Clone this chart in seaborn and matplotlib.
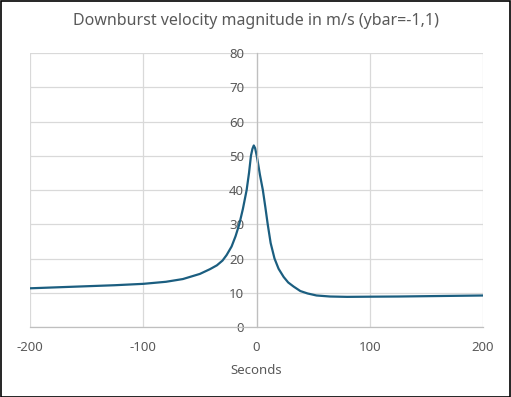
"""
Downburst velocity magnitude (ybar=-1,1) - Excel-style line chart redone with seaborn
"""

import pandas as pd
import matplotlib
matplotlib.use("Agg")
import matplotlib.pyplot as plt
import matplotlib.patches as mpatches
import seaborn as sns

# ---------------------------------------------------------------------------
# Data
# ---------------------------------------------------------------------------
seconds = [-200, -175, -150, -125, -100, -80, -65, -50, -41, -35, -30, -26.4,
           -22, -18.5, -15.2, -12, -8.7, -6.6, -4.9, -3.6, -2.4, -1.2, 0.2,
           1.5, 3, 5.6, 7.8, 9.9, 12.5, 15.9, 19.5, 24, 28, 32.8, 38.7, 45,
           53, 65, 80, 100, 125, 150, 175, 200]
velocity = [11.3, 11.6, 11.9, 12.2, 12.6, 13.2, 14.0, 15.5, 16.9, 18.0, 19.4, 21.0,
            23.5, 26.5, 30.0, 34.5, 40.0, 45.0, 50.0, 52.0, 53.0, 52.2, 50.0,
            47.5, 44.5, 40.0, 35.0, 30.0, 24.5, 20.0, 17.0, 14.6, 13.0, 11.8, 10.5, 9.8,
            9.2, 8.9, 8.8, 8.85, 8.9, 9.0, 9.1, 9.2]

x_ticks = [-200, -100, 0, 100, 200]
y_ticks = [0, 10, 20, 30, 40, 50, 60, 70, 80]

TITLE = "Downburst velocity magnitude in m/s (ybar=-1,1)"
X_LABEL = "Seconds"

# ---------------------------------------------------------------------------
# Style
# ---------------------------------------------------------------------------
LINE = "#1B5E80"
GRID = "#D9D9D9"
AXIS = "#BFBFBF"
TEXT = "#595959"

sns.set_theme(style="white")
plt.rcParams["font.family"] = ["Noto Sans", "DejaVu Sans"]

df = pd.DataFrame({"Seconds": seconds, "Velocity": velocity})

fig = plt.figure(figsize=(5.11, 3.97), dpi=100)
ax = fig.add_axes([30 / 511, 1 - 327 / 397, 453 / 511, 274 / 397])

sns.lineplot(data=df, x="Seconds", y="Velocity", ax=ax, color=LINE,
             linewidth=1.6, sort=False)

ax.set_xlim(-200, 200)
ax.set_ylim(0, 80)
ax.set_xticks(x_ticks)
ax.set_yticks(y_ticks)
ax.set_xticklabels([str(v) for v in x_ticks])
ax.set_yticklabels([str(v) for v in y_ticks])

ax.grid(True, color=GRID, linewidth=0.9)
ax.set_axisbelow(True)

for side in ["top", "right"]:
    ax.spines[side].set_visible(False)
ax.spines["left"].set_position(("data", 0))
ax.spines["left"].set_color(AXIS)
ax.spines["left"].set_linewidth(0.9)
ax.spines["bottom"].set_color(AXIS)
ax.spines["bottom"].set_linewidth(0.9)

ax.tick_params(axis="both", length=0, labelsize=9.5, labelcolor=TEXT)
ax.tick_params(axis="y", pad=9)
ax.tick_params(axis="x", pad=10)

ax.set_xlabel(X_LABEL, fontsize=9.5, color=TEXT, labelpad=7)
ax.set_ylabel("")
fig.text(0.5, 1 - 21 / 397, TITLE, ha="center", va="center",
         fontsize=11.5, color=TEXT)

# chart border
fig.patches.append(mpatches.Rectangle((0.001, 0.001), 0.997, 0.997,
                                      transform=fig.transFigure, fill=False,
                                      edgecolor="#000000", linewidth=1.2))

fig.savefig("out.png", dpi=100)
